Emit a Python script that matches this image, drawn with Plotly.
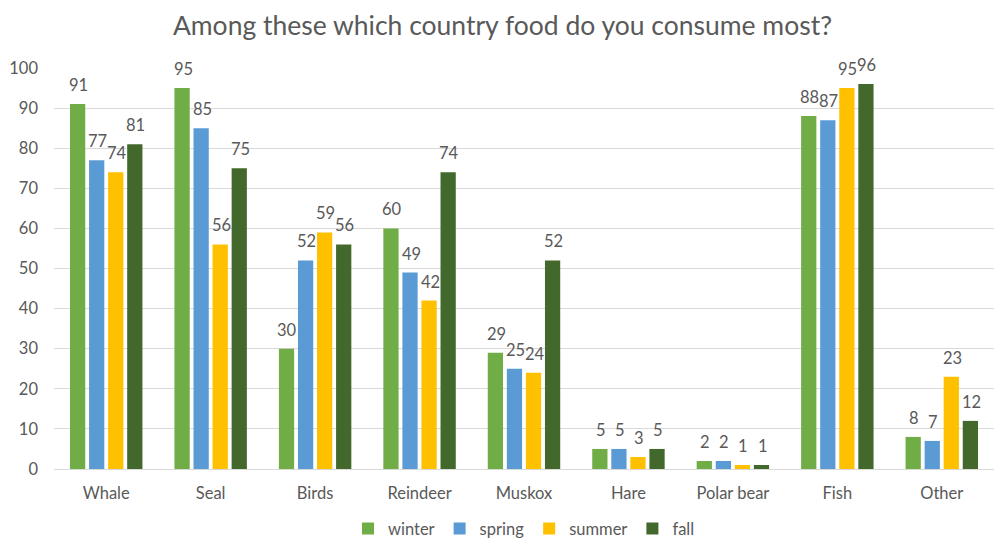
import plotly.graph_objects as go

categories = ["Whale", "Seal", "Birds", "Reindeer", "Muskox", "Hare", "Polar bear", "Fish", "Other"]
winter = [91, 95, 30, 60, 29, 5, 2, 88, 8]
spring = [77, 85, 52, 49, 25, 5, 2, 87, 7]
summer = [74, 56, 59, 42, 24, 3, 1, 95, 23]
fall = [81, 75, 56, 74, 52, 5, 1, 96, 12]

series = [
    ("winter", winter, "#70AD47"),
    ("spring", spring, "#5B9BD5"),
    ("summer", summer, "#FFC000"),
    ("fall", fall, "#43682B"),
]

FONT = "Lato, 'Open Sans', sans-serif"
TEXT = "#595959"

fig = go.Figure()
for name, vals, color in series:
    fig.add_trace(go.Bar(name=name, x=categories, y=vals, marker_color=color,
                         marker_line_width=0))

# value labels placed above each bar of the group
slot_px = 19.1
for i, (name, vals, color) in enumerate(series):
    for c, v in zip(categories, vals):
        fig.add_annotation(x=c, y=v, text=str(v), showarrow=False,
                           xshift=(i - 1.5) * slot_px + 1, yshift=7, yanchor="bottom",
                           font=dict(family=FONT, size=16.5, color=TEXT))

fig.update_layout(
    width=995, height=543,
    margin=dict(l=54, r=1, t=68, b=74, autoexpand=False),
    paper_bgcolor="white", plot_bgcolor="white",
    title=dict(text="Among these which country food do you consume most?",
               x=0.505, xanchor="center", y=0.953, yanchor="middle",
               font=dict(family=FONT, size=26.5, color=TEXT)),
    barmode="group", bargap=0.27, bargroupgap=0.2,
    legend=dict(orientation="h", x=0.5, xanchor="center",
                yref="container", y=0.026, yanchor="middle",
                font=dict(family=FONT, size=16.5, color=TEXT), itemwidth=30,
                traceorder="normal"),
    font=dict(family=FONT, color=TEXT),
)
fig.update_yaxes(range=[0, 100], dtick=10, showgrid=True, gridcolor="#D9D9D9",
                 zeroline=True, zerolinecolor="#D9D9D9", zerolinewidth=1,
                 tickfont=dict(family=FONT, size=16.5, color=TEXT),
                 ticks="", ticklabelstandoff=15, automargin=False)
fig.update_xaxes(showline=False, tickfont=dict(family=FONT, size=16.5, color=TEXT),
                 ticks="", ticklabelstandoff=12, automargin=False)

fig.write_html("out.html")
